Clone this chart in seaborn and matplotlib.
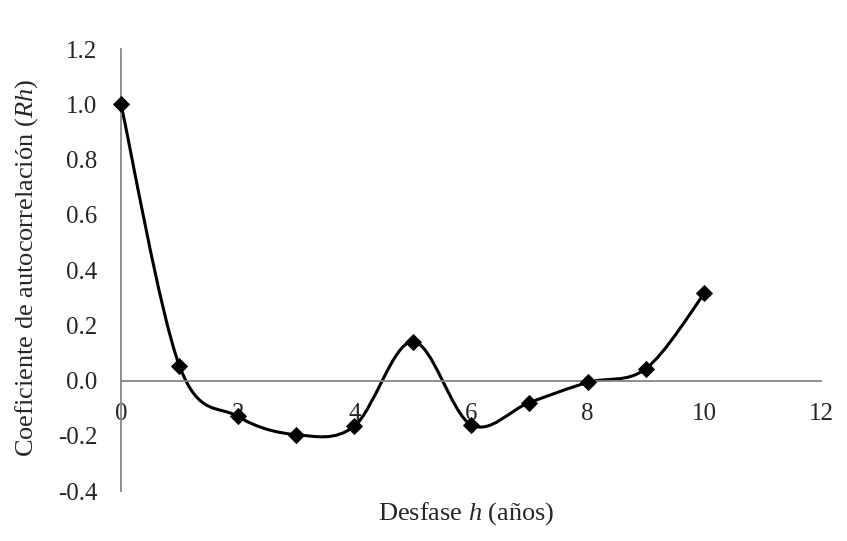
import numpy as np
import matplotlib
matplotlib.use("Agg")
import matplotlib.pyplot as plt
from matplotlib.path import Path
from matplotlib.patches import PathPatch
from matplotlib.ticker import FuncFormatter, MultipleLocator
import seaborn as sns

# autocorrelation by lag
lag = [0, 1, 2, 3, 4, 5, 6, 7, 8, 9, 10]
rh = [1.0, 0.054, -0.13, -0.196, -0.165, 0.141, -0.16, -0.08, -0.007, 0.043, 0.315]

x_ticks = [0, 2, 4, 6, 8, 10, 12]

sns.set_style("white")
plt.rcParams["font.family"] = ["Liberation Serif", "DejaVu Serif"]
plt.rcParams["mathtext.fontset"] = "custom"
plt.rcParams["mathtext.rm"] = "Liberation Serif"
plt.rcParams["mathtext.it"] = "Liberation Serif:italic"

fig = plt.figure(figsize=(8.47, 5.41), dpi=100)
ax = fig.add_axes([121 / 847, 1 - 491 / 541, 700 / 847, 442 / 541])

gray = "#868686"

# excel-like smoothed line: cubic bezier segments through the points
pts = np.column_stack([lag, rh]).astype(float)
n = len(pts)
verts = [pts[0]]
codes = [Path.MOVETO]
for i in range(n - 1):
    p_prev = pts[max(i - 1, 0)]
    p0 = pts[i]
    p1 = pts[i + 1]
    p_next = pts[min(i + 2, n - 1)]
    c1 = p0 + (p1 - p_prev) / 6
    c2 = p1 - (p_next - p0) / 6
    verts += [c1, c2, p1]
    codes += [Path.CURVE4] * 3
curve = PathPatch(Path(verts, codes), facecolor="none", edgecolor="black",
                  linewidth=2.2, zorder=2, clip_on=False)
ax.add_patch(curve)

sns.scatterplot(x=lag, y=rh, marker="D", s=66, color="black",
                edgecolor="black", zorder=3, clip_on=False, ax=ax)

ax.set_xlim(0, 12)
ax.set_ylim(-0.4, 1.2)
ax.set_xticks(x_ticks)
ax.yaxis.set_major_locator(MultipleLocator(0.2))
ax.yaxis.set_major_formatter(FuncFormatter(lambda v, p: f"{round(v, 1) + 0.0:.1f}"))

for s in ["top", "right"]:
    ax.spines[s].set_visible(False)
ax.spines["bottom"].set_position(("data", 0))
for s in ["bottom", "left"]:
    ax.spines[s].set_color(gray)
    ax.spines[s].set_linewidth(1.3)

ax.tick_params(axis="x", direction="inout", length=10, width=1.3, color=gray,
               pad=11.5, labelsize=18)
ax.tick_params(axis="y", length=0, pad=17, labelsize=18)

ax.set_xlabel("Desfase $h$ (años)", fontsize=19)
ax.set_ylabel("Coeficiente de autocorrelación ($Rh$)", fontsize=19)
ax.xaxis.set_label_coords(0.493, -0.02)
ax.yaxis.set_label_coords(-0.115, 0.505)

fig.savefig("out.png", dpi=100)
